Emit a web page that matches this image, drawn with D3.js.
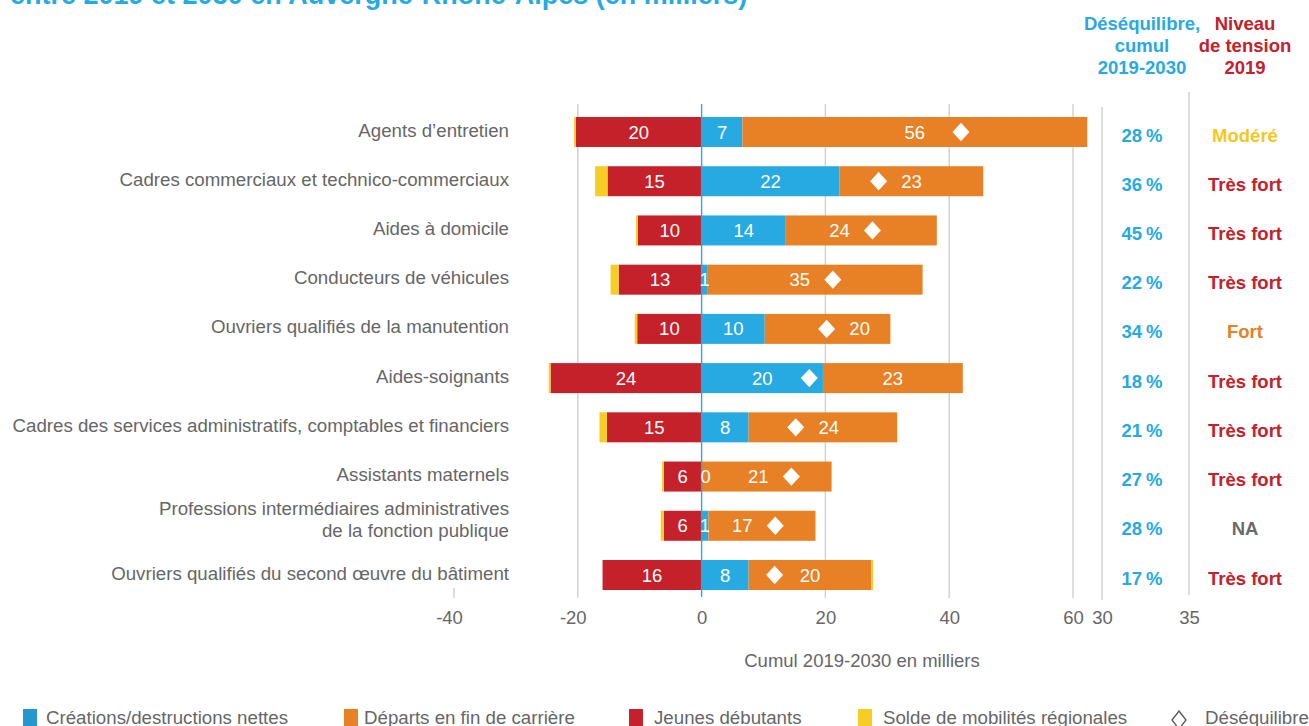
<!DOCTYPE html>
<html><head><meta charset="utf-8">
<script src="https://cdn.jsdelivr.net/npm/d3@7"></script>
<style>
html,body{margin:0;padding:0;background:#fff;overflow:hidden}
svg{display:block;font-family:"Liberation Sans",Arial,Helvetica,sans-serif}
</style></head><body>
<svg id="chart" width="1309" height="726"></svg>
<script>
// ---------- DATA (milliers, cumul 2019-2030) ----------
const categories = [
  "Agents d’entretien",
  "Cadres commerciaux et technico-commerciaux",
  "Aides à domicile",
  "Conducteurs de véhicules",
  "Ouvriers qualifiés de la manutention",
  "Aides-soignants",
  "Cadres des services administratifs, comptables et financiers",
  "Assistants maternels",
  "Professions intermédiaires administratives\nde la fonction publique",
  "Ouvriers qualifiés du second œuvre du bâtiment"
];
const creations    = [6.6, 22.3, 13.6, 1.0, 10.2, 19.6, 7.6, 0, 1.1, 7.6];
const departs      = [55.7, 23.2, 24.4, 34.7, 20.3, 22.6, 24.0, 21.0, 17.3, 19.8];
const debutants    = [20.3, 15.2, 10.3, 13.4, 10.4, 24.4, 15.3, 6.1, 6.1, 16.0];
const mobilites    = [-0.3, -2.0, -0.3, -1.3, -0.4, -0.3, -1.2, -0.3, -0.5, 0.3];
const desequilibre = [41.9, 28.6, 27.6, 21.2, 20.2, 17.4, 15.2, 14.5, 11.9, 11.8];
const partDesequilibre = ["28 %", "36 %", "45 %", "22 %", "34 %", "18 %", "21 %", "27 %", "28 %", "17 %"];
const tension = ["Modéré", "Très fort", "Très fort", "Très fort", "Fort", "Très fort", "Très fort", "Très fort", "NA", "Très fort"];
const xTicks  = [-40, -20, 0, 20, 40, 60];
const xTicks2 = [30, 35];
const legendLabels = ["Créations/destructions nettes", "Départs en fin de carrière", "Jeunes débutants", "Solde de mobilités régionales", "Déséquilibre"];

// ---------- STYLE ----------
const C = {blue:"#27aae1", orange:"#e88025", red:"#c4212a", yellow:"#f6cd22", grid:"#cfcfcf", text:"#666666"};
const tensionColor = {"Modéré":"#f6c81f", "Très fort":"#c4212a", "Fort":"#e88025", "NA":"#6b6b6b"};
const FS = 18.5;

const svg = d3.select("#chart");
const x  = d3.scaleLinear().domain([-40, 60]).range([454, 1073]);
const x2 = d3.scaleLinear().domain([30, 35]).range([1102, 1189]);
const y  = d3.scalePoint().domain(d3.range(categories.length)).range([132, 575]);
const BAR_H = 30;
const fmt = d3.format(".0f");

// title (cut off at top, as in the source)
svg.append("text").attr("x", 10).attr("y", 4)
  .attr("font-size", 27).attr("font-weight", "bold").attr("fill", C.blue)
  .text("entre 2019 et 2030 en Auvergne-Rhône-Alpes (en milliers)");

// column headers
const hdrBlue = ["Déséquilibre,", "cumul", "2019-2030"];
const hdrRed  = ["Niveau", "de tension", "2019"];
hdrBlue.forEach((t, i) => svg.append("text").attr("x", 1142).attr("y", 29.5 + i * 22)
  .attr("text-anchor", "middle").attr("font-size", FS).attr("font-weight", "bold").attr("fill", C.blue).text(t));
hdrRed.forEach((t, i) => svg.append("text").attr("x", 1245).attr("y", 29.5 + i * 22)
  .attr("text-anchor", "middle").attr("font-size", FS).attr("font-weight", "bold").attr("fill", C.red).text(t));

// gridlines
const grid = svg.append("g");
xTicks.filter(d => d !== 0).forEach(d => {
  grid.append("line").attr("x1", x(d)).attr("x2", x(d))
    .attr("y1", d === -40 ? 588 : 104).attr("y2", 598)
    .attr("stroke", C.grid).attr("stroke-width", 1.4);
});
xTicks2.forEach(d => {
  grid.append("line").attr("x1", x2(d)).attr("x2", x2(d))
    .attr("y1", d === 30 ? 107 : 92).attr("y2", d === 30 ? 600 : 595)
    .attr("stroke", C.grid).attr("stroke-width", 1.4);
});

// rows
const rows = categories.map((c, i) => ({
  i, c, cre: creations[i], dep: departs[i], deb: debutants[i], mob: mobilites[i], des: desequilibre[i]
}));
const bars = svg.append("g");
rows.forEach(r => {
  const yc = y(r.i), top = yc - BAR_H / 2;
  bars.append("rect").attr("x", x(-r.deb)).attr("y", top).attr("width", x(0) - x(-r.deb)).attr("height", BAR_H).attr("fill", C.red);
  bars.append("rect").attr("x", x(0)).attr("y", top).attr("width", x(r.cre) - x(0)).attr("height", BAR_H).attr("fill", C.blue);
  bars.append("rect").attr("x", x(r.cre)).attr("y", top).attr("width", x(r.cre + r.dep) - x(r.cre)).attr("height", BAR_H).attr("fill", C.orange);
  if (r.mob < 0) {
    bars.append("rect").attr("x", x(-r.deb + r.mob)).attr("y", top).attr("width", x(-r.deb) - x(-r.deb + r.mob)).attr("height", BAR_H).attr("fill", C.yellow);
  } else {
    bars.append("rect").attr("x", x(r.cre + r.dep)).attr("y", top).attr("width", x(r.cre + r.dep + r.mob) - x(r.cre + r.dep)).attr("height", BAR_H).attr("fill", C.yellow);
  }
});

// zero line
svg.append("line").attr("x1", x(0)).attr("x2", x(0)).attr("y1", 104).attr("y2", 597)
  .attr("stroke", C.blue).attr("stroke-width", 1.4);

// labels inside bars + diamonds
const lab = svg.append("g").attr("font-size", FS).attr("fill", "#fff").attr("text-anchor", "middle");
const diamondType = {draw(ctx, size) { const w = Math.sqrt(size) * 0.5, h = w * 1.08;
  ctx.moveTo(0, -h); ctx.lineTo(w, 0); ctx.lineTo(0, h); ctx.lineTo(-w, 0); ctx.closePath(); }};
rows.forEach(r => {
  const yc = y(r.i), base = yc + 6.5;
  const dx = x(r.des);
  const place = (cx) => {
    if (Math.abs(cx - dx) < 30) return (cx < dx - 3) ? dx - 33 : dx + 33;
    return cx;
  };
  lab.append("text").attr("x", (x(-r.deb) + x(0)) / 2).attr("y", base).text(fmt(r.deb));
  lab.append("text").attr("x", place((x(0) + x(r.cre)) / 2) + (r.cre < 0.5 ? 4 : 0)).attr("y", base).text(fmt(r.cre));
  lab.append("text").attr("x", place((x(r.cre) + x(r.cre + r.dep)) / 2)).attr("y", base).text(fmt(r.dep));
  svg.append("path").attr("d", d3.symbol().type(diamondType).size(289)())
    .attr("transform", `translate(${dx},${yc})`).attr("fill", "#fff");
});

// category labels
const cat = svg.append("g").attr("font-size", 18.7).attr("fill", C.text).attr("text-anchor", "end");
rows.forEach(r => {
  const lines = r.c.split("\n");
  const b0 = y(r.i) + 4.5 - (lines.length - 1) * 15;
  const t = cat.append("text").attr("x", 509).attr("y", b0);
  lines.forEach((l, k) => t.append("tspan").attr("x", 509).attr("y", b0 + k * 22).text(l));
});

// right columns
rows.forEach(r => {
  svg.append("text").attr("x", 1142).attr("y", y(r.i) + 9.5).attr("text-anchor", "middle")
    .attr("font-size", FS).attr("font-weight", "bold").attr("fill", C.blue)
    .attr("word-spacing", -1.2).text(partDesequilibre[r.i]);
  svg.append("text").attr("x", 1245).attr("y", y(r.i) + 9.5).attr("text-anchor", "middle")
    .attr("font-size", FS).attr("font-weight", "bold").attr("fill", tensionColor[tension[r.i]]).text(tension[r.i]);
});

// axes
function styleAxis(g) {
  g.select(".domain").remove();
  g.selectAll("text").attr("font-size", FS).attr("fill", C.text)
    .attr("font-family", '"Liberation Sans",Arial,sans-serif');
}
svg.append("g").attr("transform", "translate(0,600)")
  .call(d3.axisBottom(x).tickValues(xTicks).tickSize(0).tickPadding(10.4).tickFormat(d => String(d)))
  .call(styleAxis)
  .call(g => g.selectAll("text").attr("dx", d => d < 0 ? -5 : 0));
svg.append("g").attr("transform", "translate(0,600)")
  .call(d3.axisBottom(x2).tickValues(xTicks2).tickSize(0).tickPadding(10.4).tickFormat(d => String(d)))
  .call(styleAxis);

svg.append("text").attr("x", 862).attr("y", 667).attr("text-anchor", "middle")
  .attr("font-size", FS).attr("fill", C.text).text("Cumul 2019-2030 en milliers");

// legend
const legColors = ["#2596cf", C.orange, C.red, C.yellow];
const legBoxX = [23, 344, 629, 858];
const legTextX = [46, 364, 654, 883];
const leg = svg.append("g");
legColors.forEach((col, i) => {
  leg.append("rect").attr("x", legBoxX[i]).attr("y", 709).attr("width", 14).attr("height", 18).attr("fill", col);
  leg.append("text").attr("x", legTextX[i]).attr("y", 723.5).attr("font-size", 18.7).attr("fill", C.text).text(legendLabels[i]);
});
leg.append("path").attr("d", "M0,-9L7,0L0,9L-7,0Z").attr("transform", "translate(1179,720)")
  .attr("fill", "none").attr("stroke", "#555").attr("stroke-width", 1.3);
leg.append("text").attr("x", 1205).attr("y", 723.5).attr("font-size", 18.7).attr("fill", C.text).text(legendLabels[4]);
</script>
</body></html>
